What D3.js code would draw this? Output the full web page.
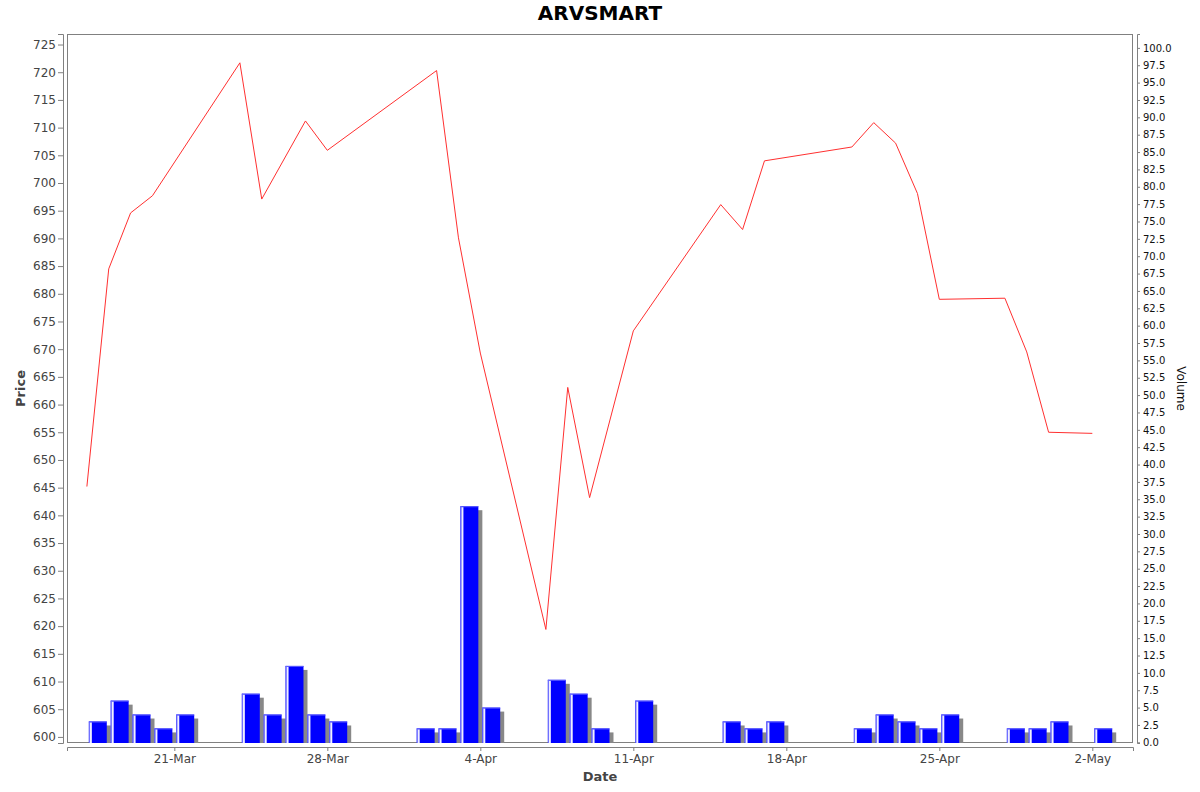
<!DOCTYPE html>
<html>
<head>
<meta charset="utf-8">
<script src="https://cdn.jsdelivr.net/npm/d3@7"></script>
<style>
  body { margin: 0; background: #fff; }
  svg { display: block; font-family: 'DejaVu Sans', sans-serif; }
</style>
</head>
<body>
<script>
// trading days, close price (null = no point on the line) and volume
let dates = ['2025-03-17', '2025-03-18', '2025-03-19', '2025-03-20', '2025-03-21',
    '2025-03-24', '2025-03-25', '2025-03-26', '2025-03-27', '2025-03-28',
    '2025-04-01', '2025-04-02', '2025-04-03', '2025-04-04',
    '2025-04-07', '2025-04-08', '2025-04-09', '2025-04-11',
    '2025-04-15', '2025-04-16', '2025-04-17',
    '2025-04-21', '2025-04-22', '2025-04-23', '2025-04-24', '2025-04-25',
    '2025-04-28', '2025-04-29', '2025-04-30', '2025-05-02'];
let prices = [645.2, 684.5, 694.6, 697.7, null,
    721.7, 697.1, null, 711.2, 705.9,
    null, 720.3, 690.1, 669.3,
    619.4, 663.1, 643.2, 673.3,
    696.1, 691.6, 704.0,
    706.5, 710.9, 707.2, 698.1, 679.0,
    679.2, 669.5, 655.0, 654.8];
let volumes = [3, 6, 4, 2, 4,
    7, 4, 11, 4, 3,
    2, 2, 34, 5,
    9, 7, 2, 6,
    3, 2, 3,
    2, 4, 3, 2, 4,
    2, 2, 3, 2];

let priceTicks = d3.range(600, 726, 5);
let volumeTicks = d3.range(0, 100.1, 2.5);
let dateTicks = ['2025-03-21', '2025-03-28', '2025-04-04', '2025-04-11',
    '2025-04-18', '2025-04-25', '2025-05-02'];

let W = 1200, H = 792;
let plot = {left: 67, top: 34, right: 1133, bottom: 743};

let parse = d3.utcParse('%Y-%m-%d');
let rows = dates.map((d, i) => ({date: parse(d), price: prices[i], volume: volumes[i]}));

let svg = d3.select('body').append('svg')
    .attr('width', W)
    .attr('height', H);

let x = d3.scaleUtc()
    .domain([new Date(Date.UTC(2025, 2, 16, 2, 10)), new Date(Date.UTC(2025, 4, 3, 20, 40))])
    .range([plot.left, plot.right]);
let yPrice = d3.scaleLinear().domain([598.9, 726.9]).range([plot.bottom, plot.top]);
let yVol = d3.scaleLinear().domain([-0.1, 102]).range([plot.bottom, plot.top]);

svg.append('defs').append('clipPath').attr('id', 'plot-clip')
    .append('rect')
    .attr('x', plot.left).attr('y', plot.top)
    .attr('width', plot.right - plot.left).attr('height', plot.bottom - plot.top);

// title
svg.append('text')
    .attr('x', W / 2).attr('y', 20)
    .attr('text-anchor', 'middle')
    .style('font-size', '20px').style('font-weight', 'bold')
    .text('ARVSMART');

// plot border
svg.append('rect')
    .attr('x', plot.left + 0.5).attr('y', plot.top + 0.5)
    .attr('width', plot.right - plot.left - 1).attr('height', plot.bottom - plot.top - 1)
    .attr('fill', '#fff').attr('stroke', '#808080');

let g = svg.append('g').attr('clip-path', 'url(#plot-clip)');

// volume bars, one day wide less a margin, with offset shadow
let day = 864e5;
let barW = d => x(new Date(+d.date + 0.91 * day)) - x(new Date(+d.date + 0.09 * day));
let barX = d => x(new Date(+d.date + 0.09 * day));
let base = yVol(yVol.domain()[0]);

g.selectAll('.shadow').data(rows).enter().append('rect')
    .attr('class', 'shadow')
    .attr('x', d => barX(d) + 4)
    .attr('y', d => yVol(d.volume) + 4)
    .attr('width', barW)
    .attr('height', d => Math.max(0, base - yVol(d.volume) - 4))
    .attr('fill', '#888');

let bars = g.selectAll('.bar').data(rows).enter().append('g').attr('class', 'bar');
bars.append('rect')
    .attr('x', barX)
    .attr('y', d => yVol(d.volume))
    .attr('width', barW)
    .attr('height', d => base - yVol(d.volume))
    .attr('fill', '#0000ff');
bars.append('rect')
    .attr('x', barX)
    .attr('y', d => yVol(d.volume))
    .attr('width', barW)
    .attr('height', 1)
    .attr('fill', '#5c5cff');
bars.append('rect')
    .attr('x', barX)
    .attr('y', d => yVol(d.volume))
    .attr('width', 1)
    .attr('height', d => base - yVol(d.volume))
    .attr('fill', '#6a6aff');
bars.append('rect')
    .attr('x', d => barX(d) + 1)
    .attr('y', d => yVol(d.volume) + 1)
    .attr('width', 2)
    .attr('height', d => base - yVol(d.volume) - 1)
    .attr('fill', '#f0f0ff');

// price line
let line = d3.line()
    .x(d => x(d.date))
    .y(d => yPrice(d.price));
g.append('path')
    .datum(rows.filter(d => d.price != null))
    .attr('d', line)
    .attr('fill', 'none')
    .attr('stroke', '#ff3030')
    .attr('stroke-width', 1);

// axes
function styleAxis(sel, color, size) {
    sel.select('.domain').attr('stroke', '#808080');
    sel.selectAll('.tick line').attr('stroke', '#808080');
    sel.selectAll('.tick text')
        .attr('fill', color)
        .style('font-size', size)
        .style('font-family', "'DejaVu Sans', sans-serif");
}

let leftAxis = svg.append('g')
    .attr('transform', `translate(${plot.left - 4},0)`)
    .call(d3.axisLeft(yPrice).tickValues(priceTicks).tickSizeOuter(0).tickSize(5).tickPadding(2).tickFormat(d3.format('d')));
styleAxis(leftAxis, '#444', '12px');

let rightAxis = svg.append('g')
    .attr('transform', `translate(${plot.right + 4},0)`)
    .call(d3.axisRight(yVol).tickValues(volumeTicks).tickSizeOuter(0).tickSize(3).tickPadding(3).tickFormat(d3.format('.1f')));
styleAxis(rightAxis, '#111', '10px');

let bottomAxis = svg.append('g')
    .attr('transform', `translate(0,${plot.bottom + 4})`)
    .call(d3.axisBottom(x).tickValues(dateTicks.map(parse)).tickSizeOuter(0).tickSize(4).tickPadding(3).tickFormat(d3.utcFormat('%-d-%b')));
styleAxis(bottomAxis, '#444', '12px');

// axis labels
svg.append('text')
    .attr('x', W / 2).attr('y', 781)
    .attr('text-anchor', 'middle')
    .attr('fill', '#444')
    .style('font-size', '13px').style('font-weight', 'bold')
    .text('Date');

svg.append('text')
    .attr('transform', `translate(25,${(plot.top + plot.bottom) / 2}) rotate(-90)`)
    .attr('text-anchor', 'middle')
    .attr('fill', '#444')
    .style('font-size', '13px').style('font-weight', 'bold')
    .text('Price');

svg.append('text')
    .attr('transform', `translate(1177,${(plot.top + plot.bottom) / 2}) rotate(90)`)
    .attr('text-anchor', 'middle')
    .attr('fill', '#111')
    .style('font-size', '12px')
    .text('Volume');
</script>
</body>
</html>
